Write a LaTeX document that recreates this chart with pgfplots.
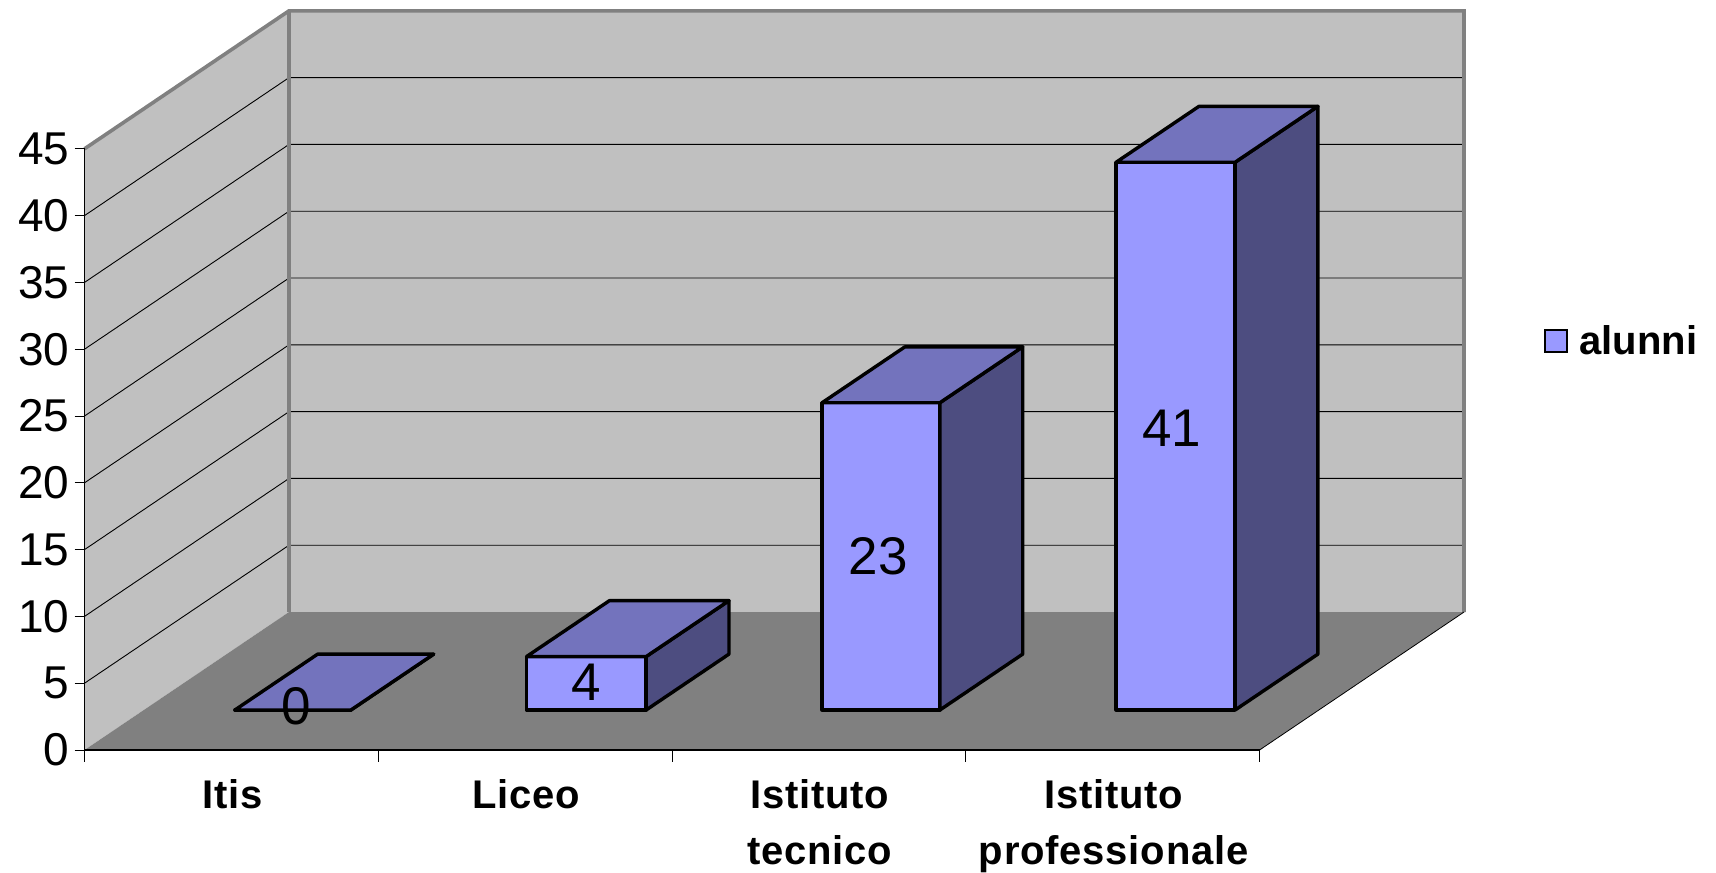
\documentclass[border=0pt]{standalone}
\usepackage{fontspec}
\setmainfont{Liberation Sans}
\usepackage{pgfplots}
\pgfplotsset{compat=1.18}

\definecolor{wallgray}{HTML}{C0C0C0}
\definecolor{floorgray}{HTML}{808080}
\definecolor{barfront}{HTML}{9999FF}
\definecolor{bartop}{HTML}{7373BD}
\definecolor{barside}{HTML}{4D4D80}

% one 3D bar: x from, x to, value
\newcommand{\threedbar}[3]{
  \addplot3[fill=barfront, draw=black, line width=1.7pt, line join=round, forget plot]
    coordinates {(#1,0.29,0) (#2,0.29,0) (#2,0.29,#3) (#1,0.29,#3)} -- cycle;
  \addplot3[fill=barside, draw=black, line width=1.7pt, line join=round, forget plot]
    coordinates {(#2,0.29,0) (#2,0.695,0) (#2,0.695,#3) (#2,0.29,#3)} -- cycle;
  \addplot3[fill=bartop, draw=black, line width=1.7pt, line join=round, forget plot]
    coordinates {(#1,0.29,#3) (#2,0.29,#3) (#2,0.695,#3) (#1,0.695,#3)} -- cycle;
}

\begin{document}
\begin{tikzpicture}
\begin{axis}[
    x={(146.875pt,0pt)},
    y={(102.25pt,69pt)},
    z={(0pt,6.68pt)},
    xmin=0, xmax=4,
    ymin=0, ymax=1,
    zmin=0, zmax=45,
    axis lines=left,
    axis on top,
    clip=false,
    axis line style={-, black, line width=0.6pt},
    y axis line style={draw=none},
    major tick length=0pt,
    xtick={0.5,1.5,2.5,3.5},
    xticklabels={Itis,Liceo,{Istituto\\tecnico},{Istituto\\professionale}},
    ytick=\empty,
    ztick={0,5,...,45},
    /pgf/number format/assume math mode=true,
    xticklabel style={font=\fontsize{20}{28}\selectfont\bfseries\addfontfeatures{LetterSpace=2},
      align=center, anchor=north, yshift=-11.3pt, xshift=0.5pt},
    zticklabel style={font=\fontsize{23}{23}\selectfont, anchor=east, xshift=-4pt},
    legend style={at={(axis cs:4.945,0,30.6)}, anchor=west, draw=none, fill=none,
      font=\fontsize{20}{24}\selectfont\bfseries},
]
% walls and floor
\addplot3[fill=wallgray, draw=none, forget plot]
  coordinates {(0,0,0) (0,1,0) (0,1,45) (0,0,45)} -- cycle;
\addplot3[fill=wallgray, draw=none, forget plot]
  coordinates {(0,1,0) (4,1,0) (4,1,45) (0,1,45)} -- cycle;
\addplot3[fill=floorgray, draw=none, forget plot]
  coordinates {(0,0,0) (4,0,0) (4,1,0) (0,1,0)} -- cycle;

% gridlines
\pgfplotsinvokeforeach{5,10,...,40}{
  \addplot3[black, line width=0.45pt, forget plot]
    coordinates {(0,0,#1) (0,1,#1) (4,1,#1)};
}
% wall outline
\addplot3[floorgray, line width=1.8pt, forget plot]
  coordinates {(0,0,45) (0,1,45) (4,1,45) (4,1,0)};
\addplot3[floorgray, line width=1.8pt, forget plot]
  coordinates {(0,1,45) (0,1,0)};
\addplot3[black, line width=0.4pt, forget plot]
  coordinates {(4,0,0) (4,1,0)};

% tick marks
\pgfplotsinvokeforeach{0,5,...,45}{
  \addplot3[black, line width=0.4pt, forget plot]
    coordinates {(-0.034,0,#1) (0,0,#1)};
}
\pgfplotsinvokeforeach{0,1,2,3,4}{
  \addplot3[black, line width=0.4pt, forget plot]
    coordinates {(#1,0,0) (#1,0,-0.9)};
}

% bars: Itis 0, Liceo 4, Istituto tecnico 23, Istituto professionale 41
\threedbar{0.31}{0.705}{0}
\threedbar{1.303}{1.71}{4}
\threedbar{2.309}{2.71}{23}
\threedbar{3.31}{3.715}{41}

\addlegendimage{legend image code/.code={
  \draw[fill=barfront, draw=black, line width=1.2pt] (0pt,-5.5pt) rectangle (11pt,5.5pt);
  \path[draw=none, fill=none] (0pt,0pt) -- (15.4pt,0pt);
}}
\addlegendentry{alunni}

% value labels
\node[font=\fontsize{26.5}{26.5}\selectfont] at (axis cs:0.518,0.29,0.3) {0};
\node[font=\fontsize{26.5}{26.5}\selectfont] at (axis cs:1.506,0.29,2.1) {4};
\node[font=\fontsize{26.5}{26.5}\selectfont] at (axis cs:2.50,0.29,11.5) {23};
\node[font=\fontsize{26.5}{26.5}\selectfont] at (axis cs:3.50,0.29,21.1) {41};

\coordinate (bl) at (axis cs:-0.2877,0,-9.13);
\coordinate (tr) at (axis cs:5.554,0,56.14);
\end{axis}
\pgfresetboundingbox
\useasboundingbox (bl) rectangle (tr);
\end{tikzpicture}
\end{document}
